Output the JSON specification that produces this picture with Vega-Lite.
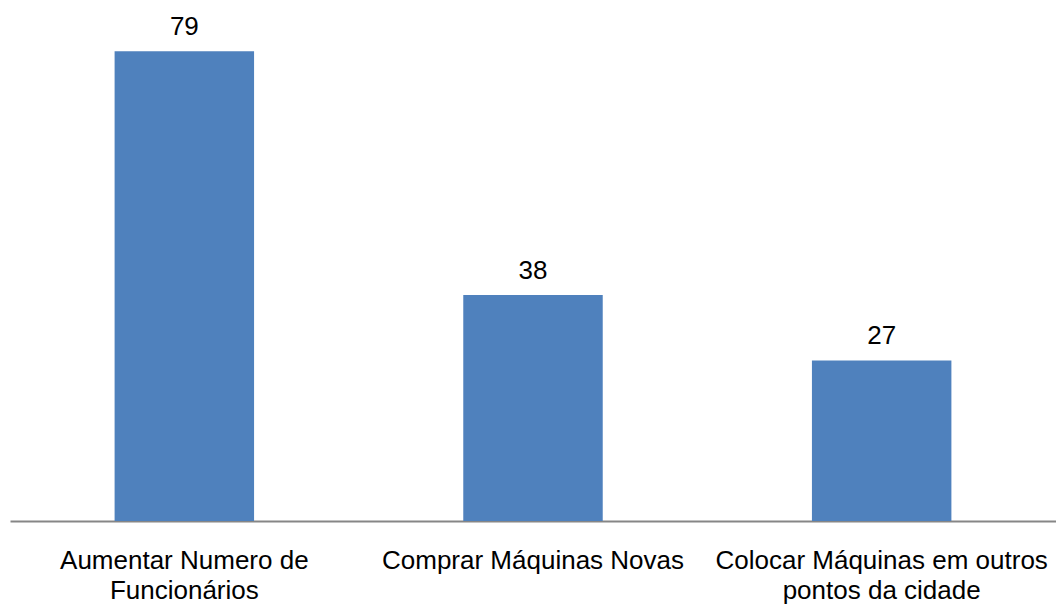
{
  "$schema": "https://vega.github.io/schema/vega-lite/v6.json",
  "width": 1046,
  "height": 521,
  "autosize": {"type": "none"},
  "padding": {"left": 10, "top": 0, "right": 0, "bottom": 83},
  "background": "white",
  "config": {"view": {"stroke": null}, "font": "Liberation Sans"},
  "data": {
    "values": [
      {"categoria": "Aumentar Numero de|Funcionários", "valor": 79},
      {"categoria": "Comprar Máquinas Novas", "valor": 38},
      {"categoria": "Colocar Máquinas em outros|pontos da cidade", "valor": 27}
    ]
  },
  "encoding": {
    "x": {
      "field": "categoria",
      "type": "nominal",
      "sort": null,
      "scale": {"paddingInner": 0.6, "paddingOuter": 0.3},
      "axis": {
        "title": null,
        "ticks": false,
        "domainColor": "#868686",
        "domainWidth": 2,
        "labelAngle": 0,
        "labelFont": "Liberation Sans",
        "labelFontSize": 26,
        "labelColor": "#000000",
        "labelPadding": 26,
        "labelLineHeight": 30,
        "labelLimit": 400,
        "labelOverlap": false,
        "labelExpr": "split(datum.label, '|')"
      }
    },
    "y": {
      "field": "valor",
      "type": "quantitative",
      "scale": {"domain": [0, 87.6], "nice": false},
      "axis": null
    }
  },
  "layer": [
    {"mark": {"type": "bar", "color": "#4F81BD"}},
    {
      "mark": {"type": "text", "baseline": "alphabetic", "dy": -16, "fontSize": 26, "font": "Liberation Sans", "color": "#000000"},
      "encoding": {"text": {"field": "valor", "type": "quantitative"}}
    }
  ]
}
